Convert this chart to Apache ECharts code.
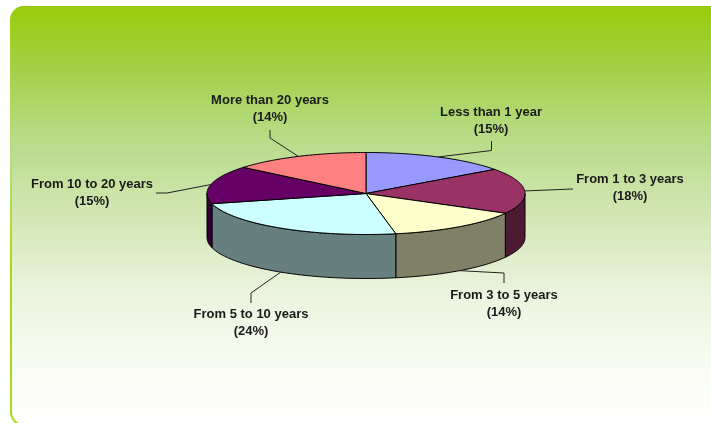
<!DOCTYPE html>
<html>
<head>
<meta charset="utf-8">
<style>html,body{margin:0;padding:0;background:#fff}#c{width:711px;height:423px}</style>
<script src="https://cdn.jsdelivr.net/npm/echarts@6/dist/echarts.min.js"></script>
</head>
<body>
<div id="c"></div>
<script>
const categories = ['Less than 1 year','From 1 to 3 years','From 3 to 5 years','From 5 to 10 years','From 10 to 20 years','More than 20 years'];
const values = [15,18,14,24,15,14];
const topColors = ['#9999FF','#993366','#FFFFCC','#CCFFFF','#660066','#FF8080'];
const wallColors = ['#4D4D80','#4D1A33','#808066','#668080','#330033','#804040'];
// layout of the callouts: label centre, and the elbow of each leader line
const labelCentres = [[491,120.5],[630,187.5],[504,303.5],[251,322.5],[92,192.5],[270,109]];
const elbows = [[[491.5,150.5],[491.5,141]],[[573,189]],[[504,273],[504,283]],[[251,293],[251,303]],[[167,193],[156,193]],[[270,138],[270,130]]];

const CX = 366, CY = 193.5, RX = 159, RY = 41, DEPTH = 44;
const total = values.reduce((a,b)=>a+b,0);
const rad = d => d*Math.PI/180;
const rim = (deg,dy) => [CX+RX*Math.sin(rad(deg)), CY-RY*Math.cos(rad(deg))+(dy||0)];
const arc = (a,b,dy) => {
  const pts=[]; const n=Math.max(2,Math.ceil(Math.abs(b-a)));
  for(let i=0;i<=n;i++) pts.push(rim(a+(b-a)*i/n,dy));
  return pts;
};

function renderItem(params, api){
  const i = params.dataIndex;
  let before = 0;
  for(let k=0;k<i;k++) before += values[k];
  const start = before/total*360;
  const end = (before+api.value(0))/total*360;
  const mid = (start+end)/2;
  const children = [];
  const ws = Math.max(start,90), we = Math.min(end,270);
  if(we>ws){
    children.push({type:'polygon',z2:1,shape:{points:arc(ws,we,0).concat(arc(we,ws,DEPTH))},
      style:{fill:wallColors[i],stroke:'#000',lineWidth:1}});
  }
  children.push({type:'polygon',z2:2,shape:{points:[[CX,CY]].concat(arc(start,end,0))},
    style:{fill:topColors[i],stroke:'#000',lineWidth:1}});
  const front = mid>100 && mid<260;
  const anchor = rim(mid, front?DEPTH:0);
  children.push({type:'polyline',z2:3,shape:{points:[anchor].concat(elbows[i])},
    style:{fill:null,stroke:'#222',lineWidth:1}});
  children.push({type:'text',z2:4,style:{
    text:categories[i]+'\n('+api.value(0)+'%)',
    x:labelCentres[i][0],y:labelCentres[i][1],
    align:'center',verticalAlign:'middle',
    font:'bold 13px "Liberation Sans", Arial, sans-serif',lineHeight:17,fill:'#1a1a1a'}});
  return {type:'group',children};
}

const chart = echarts.init(document.getElementById('c'),null,{renderer:'canvas'});
chart.setOption({
  animation:false,
  graphic:[
    {type:'rect',silent:true,z:0,shape:{x:10,y:6,width:720,height:420,r:14},style:{fill:{
      type:'linear',x:0,y:0,x2:0,y2:1,colorStops:[{offset:0,color:'#99CC0A'},{offset:0.35,color:'#B8DC88'},{offset:0.6,color:'#A9D816'},{offset:1,color:'#A9D816'}]}}},
    {type:'rect',silent:true,z:1,shape:{x:12,y:6,width:718,height:418,r:12},style:{fill:{
      type:'linear',x:0,y:0,x2:0,y2:1,colorStops:[
        {offset:0,color:'#99CC0A'},{offset:0.13,color:'#A0D040'},{offset:0.32,color:'#B8DC88'},
        {offset:0.5,color:'#D2E6B4'},{offset:0.68,color:'#EAF3DC'},{offset:0.82,color:'#F6FAEE'},{offset:1,color:'#FFFFFF'}]}}}
  ],
  series:[{
    type:'custom',coordinateSystem:'none',silent:true,z:5,clip:false,
    renderItem,
    data:values.map(v=>[v]),
    encode:{value:0}
  }]
});
</script>
</body>
</html>
